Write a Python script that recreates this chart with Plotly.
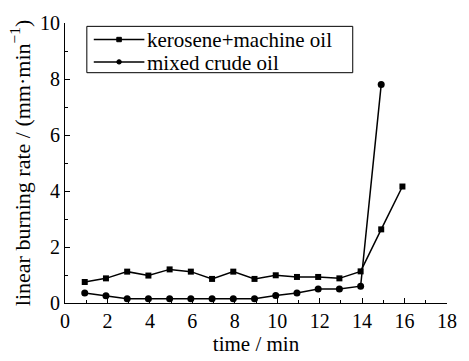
import plotly.graph_objects as go

# Burning time (min) and linear burning rate (mm/min) for the two fuels
time_kerosene = [0.93, 1.93, 2.93, 3.93, 4.93, 5.93, 6.93, 7.93, 8.93, 9.93,
                 10.93, 11.93, 12.93, 13.93, 14.9, 15.9]
rate_kerosene = [0.75, 0.88, 1.12, 0.98, 1.2, 1.12, 0.86, 1.12, 0.86, 0.99,
                 0.93, 0.93, 0.88, 1.13, 2.63, 4.16]

time_crude = [0.93, 1.93, 2.93, 3.93, 4.93, 5.93, 6.93, 7.93, 8.93, 9.93,
              10.93, 11.93, 12.93, 13.93, 14.9]
rate_crude = [0.36, 0.26, 0.15, 0.15, 0.15, 0.15, 0.15, 0.15, 0.15, 0.27,
              0.36, 0.5, 0.5, 0.6, 7.8]

series_names = ["kerosene+machine oil", "mixed crude oil"]

FONT = "Liberation Serif"
W, H = 469, 361
ML, MR, MT, MB = 65, 19, 15, 53
PW, PH = W - ML - MR, H - MT - MB


def px(x):
    """Horizontal page pixel -> paper fraction."""
    return (x - ML) / PW


def py(y):
    """Vertical page pixel (from top) -> paper fraction."""
    return (H - MB - y) / PH


fig = go.Figure()
fig.add_trace(go.Scatter(
    x=time_kerosene, y=rate_kerosene, mode="lines+markers",
    name=series_names[0],
    line=dict(color="black", width=1.5),
    marker=dict(symbol="square", size=6, color="black"),
))
fig.add_trace(go.Scatter(
    x=time_crude, y=rate_crude, mode="lines+markers",
    name=series_names[1],
    line=dict(color="black", width=1.5),
    marker=dict(symbol="circle", size=7, color="black"),
))

# Boxed key in the upper-left corner of the plot area
shapes = [dict(type="rect", xref="paper", yref="paper",
               x0=px(87), x1=px(355), y0=py(67), y1=py(18.5),
               line=dict(color="black", width=1), fillcolor="white", layer="above")]
annotations = []
rows = [32.3, 55.7]
for i, (name, row) in enumerate(zip(series_names, rows)):
    shapes.append(dict(type="line", xref="paper", yref="paper",
                       x0=px(94), x1=px(145), y0=py(row), y1=py(row),
                       line=dict(color="black", width=1.5), layer="above"))
    r = 2.3
    shapes.append(dict(type="rect" if i == 0 else "circle",
                       xref="paper", yref="paper",
                       x0=px(119.5 - r), x1=px(119.5 + r),
                       y0=py(row + r), y1=py(row - r),
                       line=dict(color="black", width=1), fillcolor="black",
                       layer="above"))
    annotations.append(dict(text=name, xref="paper", yref="paper",
                            x=px(146), y=py(row + 1), xanchor="left", yanchor="middle",
                            showarrow=False,
                            font=dict(family=FONT, size=21, color="black")))

axis_common = dict(
    showgrid=False, zeroline=False, showline=True, linecolor="black",
    linewidth=1.2, ticks="inside", ticklen=5, tickwidth=1, tickcolor="black",
    tickfont=dict(family=FONT, size=20, color="black"),
    minor=dict(ticks="inside", ticklen=3, tickwidth=1, tickcolor="black", dtick=1),
)

fig.update_layout(
    width=W, height=H,
    margin=dict(l=ML, r=MR, t=MT, b=MB),
    paper_bgcolor="white", plot_bgcolor="white",
    font=dict(family=FONT, size=20, color="black"),
    xaxis=dict(range=[0, 18], dtick=2, tick0=0,
               title=dict(text="time / min", font=dict(family=FONT, size=21), standoff=2),
               **axis_common),
    yaxis=dict(range=[0, 10], dtick=2, tick0=0,
               title=dict(text="linear burning rate / (mm·min<sup>−1</sup>)",
                          font=dict(family=FONT, size=22), standoff=3),
               **axis_common),
    shapes=shapes,
    annotations=annotations,
    showlegend=False,
)

fig.write_html("out.html")
